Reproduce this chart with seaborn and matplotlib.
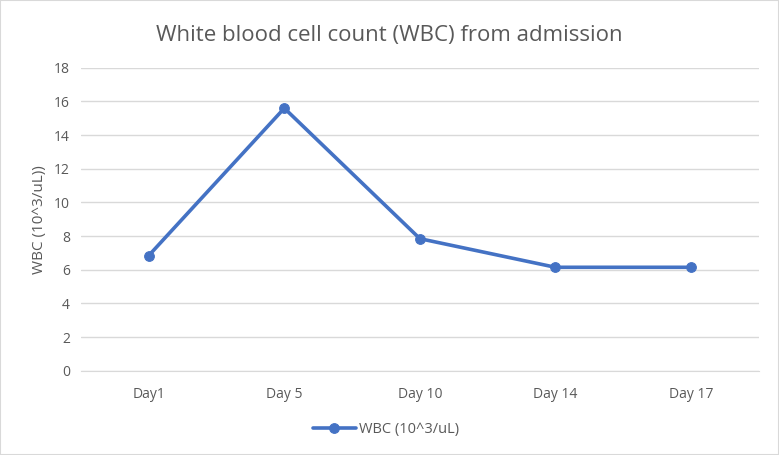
import pandas as pd
import matplotlib.pyplot as plt
import seaborn as sns
from matplotlib.patches import Rectangle

# Values
days = ['Day1', 'Day 5', 'Day 10', 'Day 14', 'Day 17']
wbc = [6.85, 15.6, 7.85, 6.15, 6.15]
yticks = [0, 2, 4, 6, 8, 10, 12, 14, 16, 18]

data = pd.DataFrame({'day': days, 'wbc': wbc})

sns.set_style('white')
plt.rcParams['font.family'] = ['Open Sans', 'DejaVu Sans']

fig = plt.figure(figsize=(7.79, 4.55), dpi=100)
ax = fig.add_axes([0.104, 0.185, 0.87, 0.666])

blue = '#4472C4'
sns.lineplot(data=data, x='day', y='wbc', ax=ax, color=blue, linewidth=2.6,
             marker='o', markersize=7, markeredgecolor=blue, sort=False,
             label='WBC (10^3/uL)')

ax.set_xlim(-0.5, len(days) - 0.5)
ax.set_ylim(0, 18)
ax.set_yticks(yticks)
ax.yaxis.grid(True, color='#D9D9D9', linewidth=1)
ax.set_axisbelow(True)
for s in ['top', 'right', 'left']:
    ax.spines[s].set_visible(False)
ax.spines['bottom'].set_color('#D9D9D9')
ax.tick_params(axis='both', length=0, labelsize=10, colors='#595959', pad=8)
ax.tick_params(axis='x', pad=12)
ax.set_xlabel('')
ax.set_ylabel('WBC (10^3/uL))', fontsize=11, color='#595959', labelpad=5)

fig.suptitle('White blood cell count (WBC) from admission', fontsize=16,
             color='#595959', y=0.945)

ax.legend(loc='upper center', bbox_to_anchor=(0.45, -0.125), frameon=False,
          fontsize=10.5, labelcolor='#595959', handlelength=3, handletextpad=0.2)

fig.patches.append(Rectangle((0, 0), 1, 1, transform=fig.transFigure,
                             fill=False, edgecolor='#D9D9D9', linewidth=1.5))

fig.savefig('out.png', dpi=100)
